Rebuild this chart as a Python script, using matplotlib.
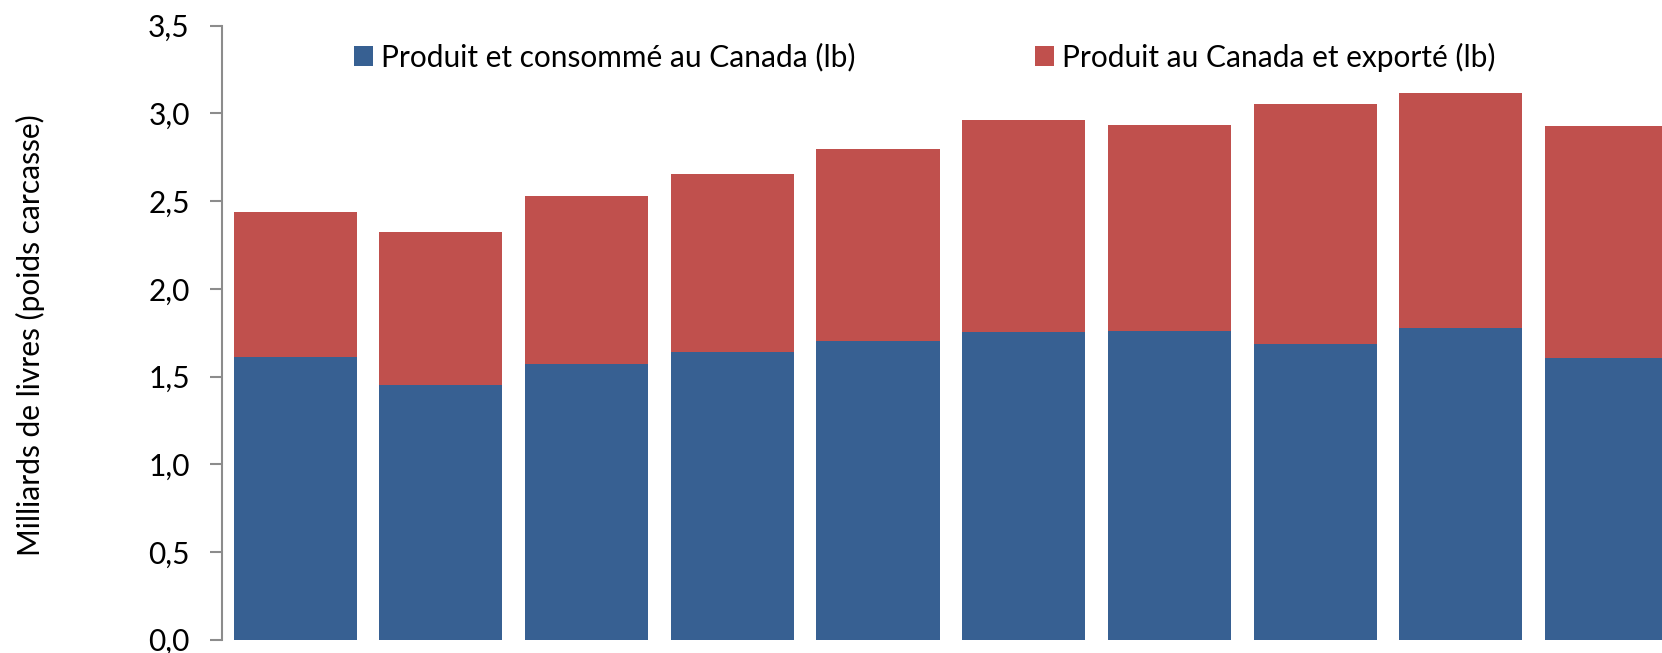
import matplotlib
matplotlib.use("Agg")
import matplotlib.pyplot as plt
from matplotlib.patches import Patch

# Data (billions of lb, carcass weight)
categories = list(range(10))
consumed = [1.611, 1.453, 1.573, 1.640, 1.704, 1.755, 1.761, 1.687, 1.778, 1.607]
totals = [2.440, 2.323, 2.527, 2.655, 2.795, 2.962, 2.935, 3.054, 3.116, 2.926]
exported = [t - c for t, c in zip(totals, consumed)]
yticks = [0.0, 0.5, 1.0, 1.5, 2.0, 2.5, 3.0, 3.5]
ytick_labels = ["0,0", "0,5", "1,0", "1,5", "2,0", "2,5", "3,0", "3,5"]
series_labels = ["Produit et consommé au Canada (lb)", "Produit au Canada et exporté (lb)"]
ylabel = "Milliards de livres (poids carcasse)"

BLUE = "#376092"
RED = "#C0504D"
FONT = ["Lato", "DejaVu Sans"]
FS = 21.5

plt.rcParams["font.family"] = FONT

W, H = 1662, 653
fig = plt.figure(figsize=(W / 100, H / 100), dpi=100)
ax = fig.add_axes([221.7 / W, 1 - 639.6 / H, 1 - 221.7 / W, (639.6 - 25.7) / H])

bw = 0.845
ax.bar(categories, consumed, width=bw, color=BLUE, linewidth=0)
ax.bar(categories, exported, bottom=consumed, width=bw, color=RED, linewidth=0)

ax.set_ylim(0, 3.5)
ax.set_xlim(-0.504, 9.381)
ax.set_yticks(yticks)
ax.set_yticklabels(ytick_labels, fontsize=FS, color="black")
ax.set_xticks([])
for s in ["top", "right", "bottom"]:
    ax.spines[s].set_visible(False)
ax.spines["left"].set_color("#8C8C8C")
ax.spines["left"].set_linewidth(1.5)
ax.tick_params(axis="y", direction="out", length=9, width=1.5, color="#8C8C8C", pad=14)

handles = [Patch(facecolor=BLUE, edgecolor="none"), Patch(facecolor=RED, edgecolor="none")]
fig.legend(handles, series_labels, loc="center left",
           bbox_to_anchor=(354 / W, 1 - 57 / H), bbox_transform=fig.transFigure,
           ncol=2, frameon=False, fontsize=FS, borderpad=0, borderaxespad=0,
           handlelength=0.64, handleheight=0.64, handletextpad=0.27, columnspacing=6.0)

fig.text(30 / W, 1 - 335 / H, ylabel, rotation=90, ha="center", va="center", fontsize=FS)

fig.savefig("out.png", dpi=100)
